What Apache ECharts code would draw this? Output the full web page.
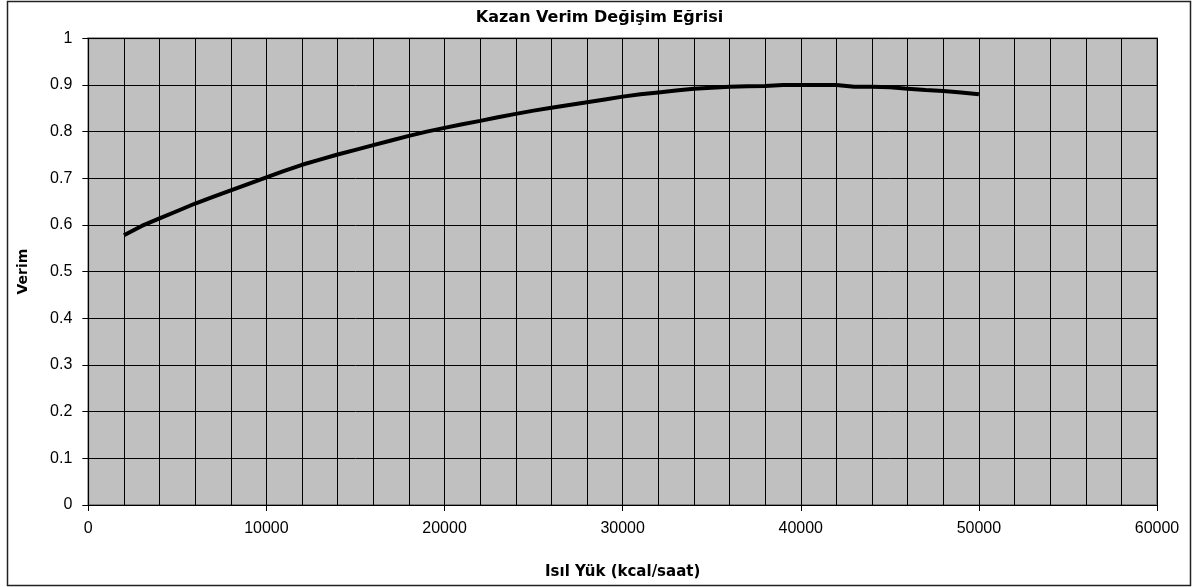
<!DOCTYPE html>
<html>
<head>
<meta charset="utf-8">
<script src="https://cdn.jsdelivr.net/npm/echarts@6/dist/echarts.min.js"></script>
<style>
html,body{margin:0;padding:0;background:#fff;}
#c{width:1199px;height:587px;}
</style>
</head>
<body>
<div id="c"></div>
<script>
const loads = [2000,3000,4000,5000,6000,7000,8000,9000,10000,11000,12000,13000,14000,15000,16000,17000,18000,19000,20000,21000,22000,23000,24000,25000,26000,27000,28000,29000,30000,31000,32000,33000,34000,35000,36000,37000,38000,39000,40000,41000,42000,43000,44000,45000,46000,47000,48000,49000,50000];
const efficiency = [0.578,0.598,0.614,0.630,0.646,0.660,0.674,0.688,0.702,0.716,0.729,0.740,0.751,0.761,0.771,0.781,0.791,0.800,0.808,0.816,0.823,0.831,0.838,0.845,0.851,0.857,0.863,0.869,0.875,0.880,0.884,0.888,0.892,0.894,0.896,0.897,0.898,0.900,0.900,0.900,0.900,0.896,0.896,0.895,0.892,0.889,0.887,0.884,0.880];
const titleText = 'Kazan Verim Değişim Eğrisi';
const xName = 'Isıl Yük (kcal/saat)';
const yName = 'Verim';

const font = 'Liberation Sans, Arial, sans-serif';
const boldFont = 'DejaVu Sans, Liberation Sans, sans-serif';
const chart = echarts.init(document.getElementById('c'), null, {renderer:'canvas'});
chart.setOption({
  animation:false,
  backgroundColor:'#fff',
  title:{text:titleText,left:'center',top:5,textStyle:{fontFamily:boldFont,fontSize:16,fontWeight:'bold',color:'#000'}},
  graphic:[{type:'rect',shape:{x:7.5,y:1.5,width:1183,height:584},style:{fill:'none',stroke:'#222',lineWidth:1.5},z:-1}],
  grid:{left:88.3,right:42,top:38.3,bottom:82,show:true,backgroundColor:'#c0c0c0',borderColor:'#808080',borderWidth:2},
  xAxis:{type:'value',min:0,max:60000,interval:10000,
    name:xName,nameLocation:'middle',nameGap:60,
    nameTextStyle:{fontFamily:boldFont,fontSize:15,fontWeight:'bold',color:'#000'},
    axisLine:{show:true,onZero:false,lineStyle:{color:'#000',width:1}},
    axisTick:{show:true,length:6,lineStyle:{color:'#000'}},
    axisLabel:{fontFamily:font,fontSize:16,color:'#000',margin:16,formatter:v=>String(v)},
    splitLine:{show:true,lineStyle:{color:'#000',width:1}},
    minorTick:{show:false,splitNumber:5},
    minorSplitLine:{show:true,lineStyle:{color:'#000',width:1}}
  },
  yAxis:{type:'value',min:0,max:1,interval:0.1,
    name:yName,nameLocation:'middle',nameGap:58,nameRotate:90,
    nameTextStyle:{fontFamily:boldFont,fontSize:14,fontWeight:'bold',color:'#000'},
    axisLine:{show:true,onZero:false,lineStyle:{color:'#000',width:1}},
    axisTick:{show:true,length:6,lineStyle:{color:'#000'}},
    axisLabel:{fontFamily:font,fontSize:16,color:'#000',margin:16,formatter:v=>String(Math.round(v*10)/10)},
    splitLine:{show:true,lineStyle:{color:'#000',width:1}}
  },
  series:[{type:'line',data:loads.map((x,i)=>[x,efficiency[i]]),showSymbol:false,symbol:'none',
    lineStyle:{color:'#000',width:4},z:5}]
});
</script>
</body>
</html>
